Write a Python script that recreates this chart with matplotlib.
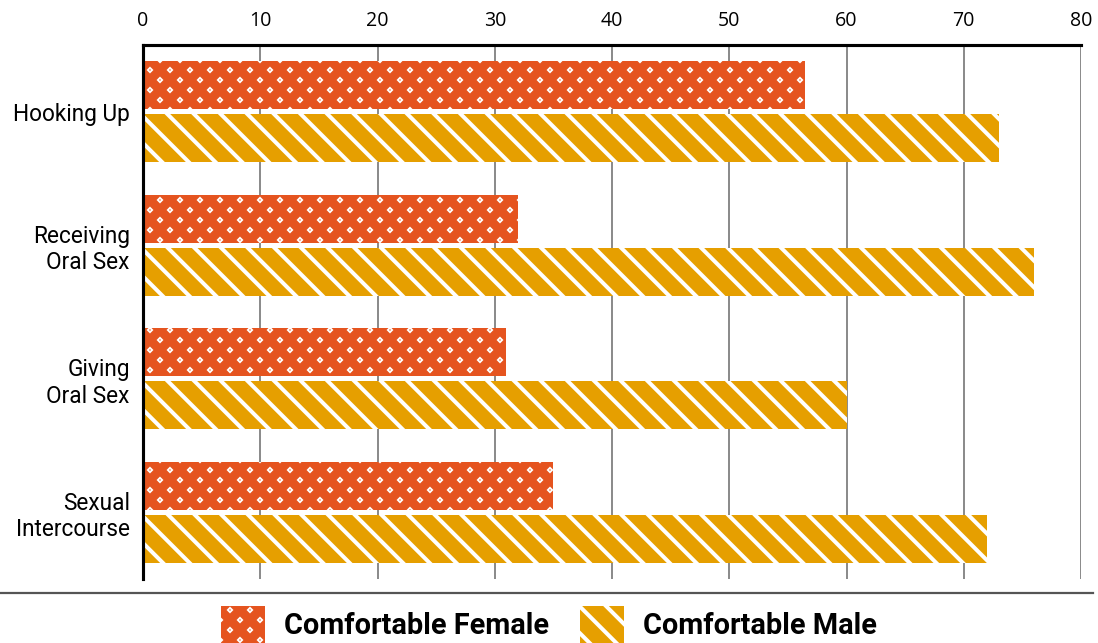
import numpy as np
import matplotlib
matplotlib.use("Agg")
import matplotlib.pyplot as plt
import matplotlib.hatch as mhatch
from matplotlib.path import Path
from matplotlib.patches import Patch
from matplotlib.lines import Line2D

categories = ["Hooking Up", "Receiving\nOral Sex", "Giving\nOral Sex", "Sexual\nIntercourse"]
female = [56.5, 32.0, 31.0, 35.0]
male = [73.0, 76.0, 60.0, 72.0]
xticks = [0, 10, 20, 30, 40, 50, 60, 70, 80]

FEMALE_COLOR = "#E5541F"
MALE_COLOR = "#E69F00"


# staggered diamond dots for the "*" hatch (replaces the stars pattern)
class DiamondDots(mhatch.HatchPatternBase):
    cols = 8
    rows = 16
    size = 0.004

    def __init__(self, hatch, density):
        self.on = hatch.count("*") > 0
        n = 0
        if self.on:
            for r in range(self.rows + 1):
                n += (self.cols + 1) if r % 2 == 0 else self.cols
        self.num_vertices = n * 5

    def set_vertices_and_codes(self, vertices, codes):
        s = self.size
        shape = np.array([[0, s], [s, 0], [0, -s], [-s, 0], [0, s]])
        shape_codes = [Path.MOVETO, Path.LINETO, Path.LINETO, Path.LINETO, Path.CLOSEPOLY]
        k = 0
        for r in range(self.rows + 1):
            y = r / self.rows
            if r % 2 == 0:
                xs = np.linspace(0, 1, self.cols + 1)
            else:
                xs = np.linspace(0.5 / self.cols, 1 - 0.5 / self.cols, self.cols)
            for x in xs:
                vertices[k:k + 5] = shape + [x, y]
                codes[k:k + 5] = shape_codes
                k += 5


mhatch._hatch_types = [t for t in mhatch._hatch_types if t is not mhatch.Stars] + [DiamondDots]

plt.rcParams["hatch.linewidth"] = 1.8
plt.rcParams["font.family"] = ["Roboto", "DejaVu Sans"]

fig = plt.figure(figsize=(1098 / 160, 643 / 160), dpi=160)
ax = fig.add_axes([143 / 1098, 1 - 579 / 643, (1081 - 143) / 1098, (579 - 45) / 643])

y = np.arange(len(categories))
ax.barh(y - 0.2, female, height=0.36, color=FEMALE_COLOR, edgecolor="white",
        linewidth=0, hatch="*", zorder=2)
ax.barh(y + 0.2, male, height=0.36, color=MALE_COLOR, edgecolor="white",
        linewidth=0, hatch="\\\\", zorder=2)

ax.set_xlim(0, 80)
ax.set_ylim(3.5, -0.5)
ax.set_xticks(xticks)
ax.xaxis.tick_top()
ax.set_xticklabels([str(v) for v in xticks], fontfamily="Open Sans", fontsize=8.8)
ax.set_yticks(y)
ax.set_yticklabels(categories, fontsize=10.2, linespacing=1.2)
ax.tick_params(axis="both", length=0, pad=6)
ax.tick_params(axis="x", pad=6.5)

ax.grid(axis="x", color="#8c8c8c", linewidth=0.9, zorder=0)
ax.set_axisbelow(True)
for side in ["right", "bottom"]:
    ax.spines[side].set_visible(False)
ax.spines["left"].set_linewidth(1.4)
ax.spines["top"].set_linewidth(1.4)
ax.spines["left"].set_zorder(3)

# separator line above legend
fig.add_artist(Line2D([0, 1093 / 1098], [1 - 593 / 643] * 2, color="#555555", linewidth=1.0))

handles = [
    Patch(facecolor=FEMALE_COLOR, edgecolor="white", linewidth=0, hatch="*", label="Comfortable Female"),
    Patch(facecolor=MALE_COLOR, edgecolor="white", linewidth=0, hatch="\\\\", label="Comfortable Male"),
]
fig.legend(handles=handles, loc="upper center", bbox_to_anchor=(0.5, 1 - 606 / 643), ncol=2,
           frameon=False, prop={"family": "Roboto", "weight": "bold", "size": 13},
           handlelength=1.5, handleheight=1.6, handletextpad=0.66, columnspacing=1.1,
           borderaxespad=0, borderpad=0)

fig.savefig("out.png", dpi=160)
